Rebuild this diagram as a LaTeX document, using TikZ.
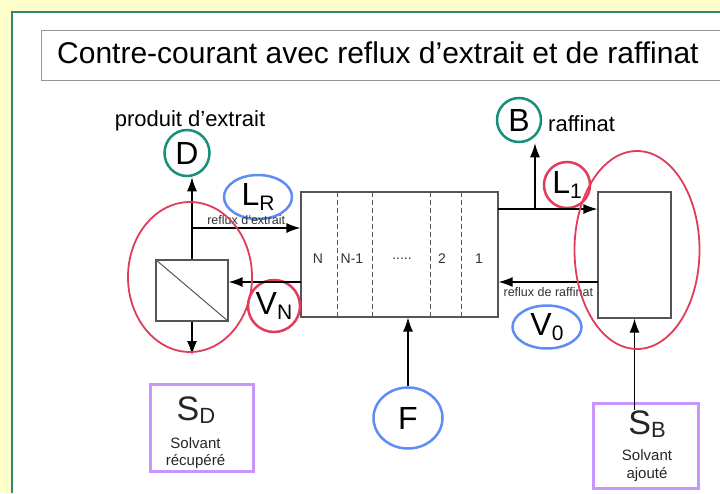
\documentclass[tikz,border=0pt]{standalone}
\usepackage{fontspec}
\setmainfont{Liberation Sans}
\usetikzlibrary{shapes.geometric,arrows.meta,positioning}

\definecolor{slidebg}{RGB}{255,255,204}
\definecolor{panelteal}{RGB}{45,135,115}
\definecolor{framegray}{RGB}{150,150,150}
\definecolor{boxgray}{RGB}{85,85,85}
\definecolor{ringteal}{RGB}{20,145,120}
\definecolor{ringblue}{RGB}{95,140,245}
\definecolor{ringred}{RGB}{225,60,90}
\definecolor{boxpurple}{RGB}{200,150,250}

% big letter, with or without a lowered index
\newcommand{\bigone}[1]{{\fontsize{32}{32}\selectfont #1}}
\newcommand{\bigsym}[2]{{\fontsize{32}{32}\selectfont #1\raisebox{-5pt}{\fontsize{21}{21}\selectfont #2}}}
\newcommand{\solvsym}[2]{{\fontsize{34}{34}\selectfont #1\raisebox{-3pt}{\fontsize{22}{22}\selectfont #2}}}
\newcommand{\stagedots}{.....}

\tikzset{
  ring/.style={ellipse,draw,line width=2.5pt,inner sep=0pt},
  tealring/.style={ring,draw=ringteal},
  bluering/.style={ring,draw=ringblue},
  redring/.style={ring,draw=ringred,line width=1.8pt},
  stagebox/.style={draw=boxgray,line width=1.2pt,inner sep=0pt,fill=white},
  stagesep/.style={draw=boxgray,line width=1pt,dash pattern=on 5pt off 3pt},
  stagelabel/.style={font=\fontsize{14}{14}\selectfont,text=black!80},
  solvbox/.style={draw=boxpurple,line width=3pt,inner sep=0pt},
  flow/.style={-{Latex[length=14pt,width=10pt]},line width=1.3pt},
  tinytext/.style={font=\fontsize{12.5}{12.5}\selectfont,text=black!80,inner sep=0pt},
  smalltext/.style={font=\fontsize{15}{15}\selectfont,text=black!85,anchor=base},
  plaintext/.style={font=\fontsize{22}{22}\selectfont}
}

\begin{document}
\begin{tikzpicture}[x=1pt,y=-1pt]
\useasboundingbox (0,0) rectangle (720,493);
\fill[slidebg] (0,0) rectangle (720,493);
\fill[white] (12,12) rectangle (720,493);
\draw[panelteal,line width=2pt] (12,493) -- (12,12) -- (720,12);

% title
\draw[framegray,fill=white,line width=1pt] (720,30) -- (41,30) -- (41,80) -- (720,80);
\node[anchor=base west,inner sep=0pt,font=\fontsize{30}{30}\selectfont] (title) at (57,63)
  {Contre-courant avec reflux d’extrait et de raffinat};

% units
\node[stagebox,minimum width=72,minimum height=61] (sep) at (192,290.5) {};
\draw[boxgray,line width=1pt] (sep.north west) -- (sep.south east);
\node[stagebox,minimum width=197,minimum height=125] (col) at (399.5,254.5) {};
\node[stagebox,minimum width=73,minimum height=126] (ret) at (634.5,255) {};
\foreach \x in {337,372,430,461}
  \draw[stagesep] (\x,192) -- (\x,317);
\foreach \x/\t [count=\i] in {318/N,352/N-1,402/\stagedots,442/2,479/1}
  \node[stagelabel] (st\i) at (\x,259) {\t};

% streams and their labels
\node[tealring,minimum width=45,minimum height=46,label=center:{\bigone{D}}] (D) at (187,153) {};
\node[plaintext] (prod) at (190,121) {produit d’extrait};
\node[tealring,minimum width=44,minimum height=44,label=center:{\bigone{B}}] (B) at (519,120) {};
\node[plaintext,anchor=base west,inner sep=0pt] (raff) at (548,131) {raffinat};
\node[bluering,minimum width=68,minimum height=44,label=center:{\bigsym{L}{R}}] (LR) at (258,197) {};
\node[redring,line width=2.5pt,minimum width=52,minimum height=52,label=center:{\bigsym{V}{N}}] (VN) at (274,306) {};
\node[redring,line width=2.5pt,minimum width=46,minimum height=46,label=center:{\bigsym{L}{1}}] (L1) at (567,185) {};
\node[bluering,minimum width=69,minimum height=43,label=center:{\bigsym{V}{0}}] (V0) at (547,327) {};
\node[bluering,minimum width=69,minimum height=61,label=center:{\bigone{F}}] (F) at (408,418) {};

\node[solvbox,minimum width=103,minimum height=87] (SD) at (202,428) {};
\node[smalltext] (SDsym) at (196,420) {\solvsym{S}{D}};
\node[smalltext] (SDa) at (195.5,448) {Solvant};
\node[smalltext] (SDb) at (195.5,465) {récupéré};

\node[solvbox,minimum width=105,minimum height=85] (SB) at (645.5,445.5) {};
\node[smalltext] (SBsym) at (647,434) {\solvsym{S}{B}};
\node[smalltext] (SBa) at (647,460) {Solvant};
\node[smalltext] (SBb) at (647,478) {ajouté};

% connectors
\coordinate (tee1) at (192,228);
\coordinate (sdout) at (192,355);
\coordinate (vnin) at (301,282);
\coordinate (l1out) at (498,209);
\coordinate (tee2) at (535,209);
\coordinate (v0in) at (598,282);
\coordinate (sbin) at (634.5,410);
\draw[flow] (sep.north) -- (sep.north |- D.south);
\draw[flow] (sep.south) -- (sdout);
\draw[flow] (tee1) -- (tee1 -| col.west) node[tinytext,midway,above=3pt] {reflux d’extrait};
\draw[flow] (vnin) -- (vnin -| sep.east);
\draw[flow] (l1out) -- (l1out -| ret.west);
\draw[flow] (tee2) -- (tee2 |- B.south);
\draw[flow] (v0in) -- (v0in -| col.east) node[tinytext,midway,below=5pt] {reflux de raffinat};
\draw[flow] (F.north) -- (F.north |- col.south);
\draw[flow] (sbin) -- (ret.south);

% envelopes
\node[redring,minimum width=124,minimum height=150] (sepzone) at (190,277) {};
\node[redring,minimum width=125,minimum height=198] (retzone) at (637,250) {};
\end{tikzpicture}
\end{document}
